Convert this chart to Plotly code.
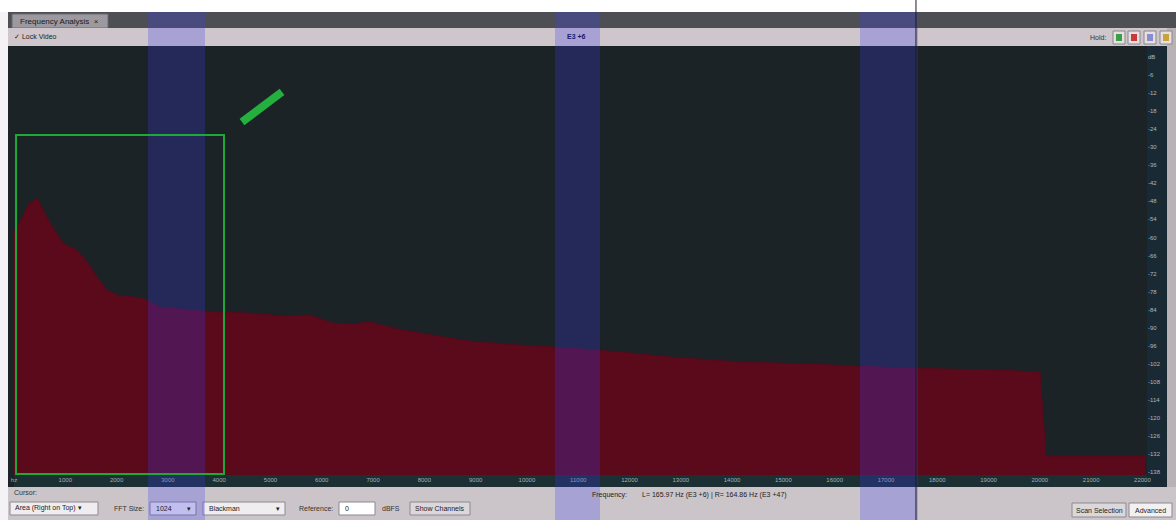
import plotly.graph_objects as go

# spectrum (frequency in Hz, level in dB)
freq_hz = [0, 117, 273, 448, 702, 955, 1228, 1443, 1618, 1813,
           2008, 2515, 2846, 3373, 3880, 4504, 4855, 5283, 5771, 6219,
           6609, 6941, 7389, 7915, 8890, 9865, 10840, 11815, 12790, 14154,
           15519, 16884, 18248, 19223, 20003, 20120, 21173, 22050]
level_db = [-58.2, -54.9, -49.2, -46.9, -55.2, -61.9, -64.2, -68.5, -73.2, -77.5,
            -79.2, -80.2, -83.2, -84.1, -84.8, -85.1, -85.5, -86.1, -85.8, -88.5,
            -88.8, -88.1, -90.1, -91.8, -94.5, -95.8, -96.8, -98.1, -99.8, -101.4,
            -102.1, -103.1, -103.8, -104.1, -104.8, -132.7, -132.7, -132.7]

x_tick_hz = [0, 1000, 2000, 3000, 4000, 5000, 6000, 7000, 8000, 9000, 10000, 11000,
             12000, 13000, 14000, 15000, 16000, 17000, 18000, 19000, 20000, 21000, 22000]
x_tick_text = ["hz", "1000", "2000", "3000", "4000", "5000", "6000", "7000", "8000",
               "9000", "10000", "11000", "12000", "13000", "14000", "15000", "16000",
               "17000", "18000", "19000", "20000", "21000", "22000"]
db_ticks = [0, -6, -12, -18, -24, -30, -36, -42, -48, -54, -60, -66,
            -72, -78, -84, -90, -96, -102, -108, -114, -120, -126, -132, -138]
db_tick_text = ["dB", "-6", "-12", "-18", "-24", "-30", "-36", "-42", "-48", "-54", "-60", "-66",
                "-72", "-78", "-84", "-90", "-96", "-102", "-108", "-114", "-120", "-126", "-132", "-138"]

# highlighted note bands and the playback cursor
band_ranges_hz = [(2612, 3724), (10547, 11425), (16494, 17624)]
cursor_hz = 17585

# green highlight box and arrow (frequency / dB)
box_hz = (40, 4094)
box_db = (-25.9, -138.7)
arrow_tail = (5225, -11.6)
arrow_head = (4445, -21.6)

x_range = [0, 22089]
y_range = [-139.0, 3.66]

W, H = 1176, 520
L, R, T, B = 14, 29, 46, 45
PW, PH = W - L - R, H - T - B


def px(p):
    return (p - L) / PW


def py(p):
    return (H - B - p) / PH


fig = go.Figure()

# baseline so the area fills down to the bottom of the plot
fig.add_trace(go.Scatter(x=[freq_hz[0], freq_hz[-1]], y=[y_range[0], y_range[0]],
                         mode="lines", line=dict(width=0), hoverinfo="skip", showlegend=False))
fig.add_trace(go.Scatter(x=freq_hz, y=level_db, mode="lines", fill="tonexty",
                         fillcolor="#5a0a1b", line=dict(color="#560a1b", width=1),
                         name="Spectrum", showlegend=False))

shapes = []


def rect(x0, y0, x1, y1, color, line=None, layer="below"):
    shapes.append(dict(type="rect", xref="paper", yref="paper",
                       x0=px(x0), x1=px(x1), y0=py(y1), y1=py(y0),
                       fillcolor=color, line=line or dict(width=0), layer=layer))


# window chrome (outside the plot area)
rect(0, 0, W, 12, "#ffffff")
rect(0, 12, 8, H, "#f4f2f4")
rect(8, 12, W, 28, "#4d4f55")
rect(12, 14, 108, 28, "#9d99a0", dict(color="#6a686e", width=1))
rect(8, 28, W, 46, "#cec6cb")
rect(8, 46, L, 487, "#1b2326")
rect(L, 475, 1147, 487, "#1c2f33")
rect(1147, 46, 1167, 487, "#1a2a34")
rect(1167, 28, W, 487, "#b8b2b6")

# toolbar buttons
for x0, c in [(1113, "#3e9c46"), (1128, "#c83a3a"), (1144, "#8c8ad0"), (1160, "#c9a23c")]:
    rect(x0, 31, x0 + 12, 44, "#e4e0e2", dict(color="#8a868a", width=1))
    rect(x0 + 3, 34, x0 + 9, 41, c)

# status bar widgets
rect(10, 502, 98, 515, "#efedef", dict(color="#8d898d", width=1))
rect(150, 502, 196, 515, "#efedef", dict(color="#8d898d", width=1))
rect(203, 502, 285, 515, "#efedef", dict(color="#8d898d", width=1))
rect(339, 502, 375, 515, "#ffffff", dict(color="#8d898d", width=1))
rect(410, 502, 470, 515, "#dcd7da", dict(color="#8d898d", width=1))
rect(1072, 503, 1126, 517, "#dcd7da", dict(color="#8d898d", width=1))
rect(1129, 503, 1172, 517, "#f2f0f2", dict(color="#8d898d", width=1))

# note bands across the whole panel
for lo, hi in band_ranges_hz:
    shapes.append(dict(type="rect", xref="x", yref="paper", x0=lo, x1=hi,
                       y0=py(H), y1=py(12), fillcolor="rgba(60,60,240,0.26)",
                       line=dict(width=0), layer="above"))

# cursor line
shapes.append(dict(type="line", xref="x", yref="paper", x0=cursor_hz, x1=cursor_hz,
                   y0=py(H), y1=py(0), line=dict(color="#1c1c24", width=1), layer="above"))

# green highlight box and arrow
shapes.append(dict(type="rect", xref="x", yref="y", x0=box_hz[0], x1=box_hz[1],
                   y0=box_db[1], y1=box_db[0], line=dict(color="#1fa83a", width=2),
                   layer="above"))
shapes.append(dict(type="line", xref="x", yref="y", x0=arrow_tail[0], y0=arrow_tail[1],
                   x1=arrow_head[0], y1=arrow_head[1],
                   line=dict(color="#23b03e", width=8), layer="above"))

annotations = []


def label(text, x, y, size=7, color="#202020", anchor="left", bold=False):
    annotations.append(dict(text=f"<b>{text}</b>" if bold else text, xref="paper", yref="paper",
                            x=px(x), y=py(y), xanchor=anchor, yanchor="middle",
                            showarrow=False, font=dict(size=size, color=color)))


label("Frequency Analysis  ×", 18, 21, 8, "#1c1c1c")
label("✓ Lock Video", 12, 37, 7, "#222222")
label("E3 +6", 576, 37, 7, "#1b1b6a", "center", True)
label("Hold:", 1108, 38, 7, "#333333", "right")
label("Cursor:", 12, 493, 7, "#333333")
label("Area (Right on Top) ▾", 13, 508, 7, "#222222")
label("FFT Size:", 112, 508, 7, "#333333")
label("1024", 154, 508, 7, "#222222")
label("▾", 193, 508, 7, "#222222", "right")
label("Blackman", 207, 508, 7, "#222222")
label("▾", 282, 508, 7, "#222222", "right")
label("Reference:", 297, 508, 7, "#333333")
label("0", 343, 508, 7, "#222222")
label("dBFS", 380, 508, 7, "#333333")
label("Show Channels", 440, 508, 7, "#222222", "center")
label("Frequency:", 590, 495, 7, "#222222")
label("L= 165.97 Hz (E3 +6) | R= 164.86 Hz (E3 +47)", 640, 495, 7, "#222222")
label("Scan Selection", 1099, 510, 7, "#222222", "center")
label("Advanced", 1150, 510, 7, "#222222", "center")

fig.update_layout(
    width=W, height=H, autosize=False,
    margin=dict(l=L, r=R, t=T, b=B),
    paper_bgcolor="#cbc5c9",
    plot_bgcolor="#1b2326",
    font=dict(family="Liberation Sans, Arial, sans-serif"),
    showlegend=False,
    shapes=shapes,
    annotations=annotations,
    xaxis=dict(range=x_range, tickvals=x_tick_hz, ticktext=x_tick_text, ticks="",
               showgrid=False, zeroline=False, showline=False,
               tickfont=dict(size=6, color="#9fb3b8")),
    yaxis=dict(range=y_range, side="right", tickvals=db_ticks, ticktext=db_tick_text,
               ticks="", showgrid=False, zeroline=False, showline=False,
               tickfont=dict(size=6, color="#aab8c4")),
)

fig.write_html("out.html", config={"displayModeBar": False},
               post_script="document.body.style.margin='0';")
